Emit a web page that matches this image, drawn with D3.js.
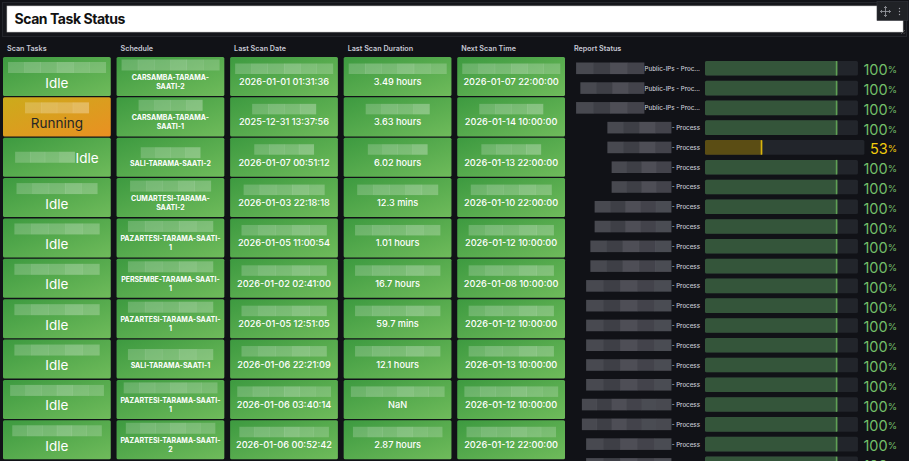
<!DOCTYPE html>
<html>
<head>
<meta charset="utf-8">
<script src="https://cdn.jsdelivr.net/npm/d3@7"></script>
<style>
  html, body { margin: 0; padding: 0; background: #111217; overflow: hidden; }
  svg { display: block; font-family: Inter, "Noto Sans", sans-serif; }
</style>
</head>
<body>
<script>
// ---- data ----
const panelTitle = "Scan Task Status";
const columns = ["Scan Tasks", "Schedule", "Last Scan Date", "Last Scan Duration", "Next Scan Time"];
const reportTitle = "Report Status";

// hidden (blurred) series names: only their length is known
const nameLengths = [23, 15, 14, 19, 20, 20, 20, 20, 22, 21];
const taskStates = ["Idle", "Running", "Idle", "Idle", "Idle", "Idle", "Idle", "Idle", "Idle", "Idle"];
const schedules = [
  "CARSAMBA-TARAMA-SAATI-2", "CARSAMBA-TARAMA-SAATI-1", "SALI-TARAMA-SAATI-2",
  "CUMARTESI-TARAMA-SAATI-2", "PAZARTESI-TARAMA-SAATI-1", "PERSEMBE-TARAMA-SAATI-1",
  "PAZARTESI-TARAMA-SAATI-1", "SALI-TARAMA-SAATI-1", "PAZARTESI-TARAMA-SAATI-1",
  "PAZARTESI-TARAMA-SAATI-2"
];
const lastScanDates = [
  "2026-01-01 01:31:36", "2025-12-31 13:37:56", "2026-01-07 00:51:12", "2026-01-03 22:18:18",
  "2026-01-05 11:00:54", "2026-01-02 02:41:00", "2026-01-05 12:51:05", "2026-01-06 22:21:09",
  "2026-01-06 03:40:14", "2026-01-06 00:52:42"
];
const durationValues = [3.49, 3.63, 6.02, 12.3, 1.01, 16.7, 59.7, 12.1, NaN, 2.87];
const durationUnits = ["hours", "hours", "hours", "mins", "hours", "hours", "mins", "hours", "hours", "hours"];
const nextScanTimes = [
  "2026-01-07 22:00:00", "2026-01-14 10:00:00", "2026-01-13 22:00:00", "2026-01-10 22:00:00",
  "2026-01-12 10:00:00", "2026-01-08 10:00:00", "2026-01-12 10:00:00", "2026-01-13 10:00:00",
  "2026-01-12 10:00:00", "2026-01-12 22:00:00"
];

const reportLabels = [
  "Public-IPs - Proc...", "Public-IPs - Proc...", "Public-IPs - Proc...",
  "- Process", "- Process", "- Process", "- Process", "- Process", "- Process", "- Process",
  "- Process", "- Process", "- Process", "- Process", "- Process", "- Process", "- Process",
  "- Process", "- Process", "- Process", "- Process"
];
const reportNameLengths = [16, 15, 16, 15, 15, 14, 14, 18, 18, 19, 19, 20, 20, 20, 20, 20, 20, 21, 21, 20, 20];
const reportValues = [100, 100, 100, 100, 53, 100, 100, 100, 100, 100, 100, 100, 100, 100, 100, 100, 100, 100, 100, 100, 100];

// ---- setup ----
const width = 909;
const height = 461;
const charW = 4.25;

const svg = d3.select("body").append("svg")
  .attr("width", width)
  .attr("height", height);

const defs = svg.append("defs");
function gradient(id, c0, c1) {
  const g = defs.append("linearGradient").attr("id", id)
    .attr("x1", 0).attr("y1", 0).attr("x2", 1).attr("y2", 1);
  g.append("stop").attr("offset", "0%").attr("stop-color", c0);
  g.append("stop").attr("offset", "100%").attr("stop-color", c1);
}
gradient("gGreen", "#3d9a40", "#6fbb5b");
gradient("gOrange", "#cbab1b", "#ea9022");

svg.append("rect").attr("width", width).attr("height", height).attr("fill", "#111217");

// ---- title panel ----
svg.append("rect")
  .attr("x", 2.5).attr("y", 2.5).attr("width", 904).attr("height", 34)
  .attr("fill", "#15161b").attr("stroke", "#24262c");
svg.append("rect")
  .attr("x", 7).attr("y", 6).attr("width", 896).attr("height", 26)
  .attr("fill", "#ffffff").attr("stroke", "#c8c8c8").attr("stroke-width", 0.6);
svg.append("text")
  .attr("x", 14.5).attr("y", 24)
  .attr("font-size", 14).attr("font-weight", 700).attr("fill", "#111")
  .attr("letter-spacing", -0.45)
  .text(panelTitle);

// hover icons in the corner
const icons = svg.append("g");
icons.append("rect")
  .attr("x", 877).attr("y", 1.5).attr("width", 31).attr("height", 19)
  .attr("fill", "#202226").attr("stroke", "#34363c").attr("stroke-width", 0.6);
const cx = 885.5, cy = 11.5;
icons.append("path")
  .attr("d", `M${cx - 5},${cy}H${cx + 5}M${cx},${cy - 5}V${cy + 5}` +
    `M${cx - 3.5},${cy - 1.5}L${cx - 5},${cy}L${cx - 3.5},${cy + 1.5}` +
    `M${cx + 3.5},${cy - 1.5}L${cx + 5},${cy}L${cx + 3.5},${cy + 1.5}` +
    `M${cx - 1.5},${cy - 3.5}L${cx},${cy - 5}L${cx + 1.5},${cy - 3.5}` +
    `M${cx - 1.5},${cy + 3.5}L${cx},${cy + 5}L${cx + 1.5},${cy + 3.5}`)
  .attr("fill", "none").attr("stroke", "#9fa1a8").attr("stroke-width", 0.8);
[-3, 0, 3].forEach(d => {
  icons.append("circle").attr("cx", 899.5).attr("cy", cy + d).attr("r", 0.7).attr("fill", "#9fa1a8");
});
svg.append("path")
  .attr("d", "M901,34L905,30M903.5,34L905,32.5")
  .attr("stroke", "#777").attr("stroke-width", 0.6);

// ---- scales ----
const xCol = d3.scaleBand().domain(columns).range([3, 565]).paddingInner(0.051);
const yRow = d3.scaleBand().domain(d3.range(taskStates.length)).range([57, 459.3]).paddingInner(0.033);

// headers
svg.append("g").selectAll("text")
  .data(columns.concat([reportTitle]))
  .join("text")
  .attr("x", (d, i) => i < columns.length ? xCol(d) + 4 : 574)
  .attr("y", 48.7)
  .attr("dominant-baseline", "central")
  .attr("font-size", 7.2).attr("font-weight", 600).attr("fill", "#c7c8d4")
  .text(d => d);

// pixelated redaction block
function mask(g, x, y, w, h, shades) {
  const n = Math.max(1, Math.round(w / 16));
  const tw = w / n;
  d3.range(n).forEach(k => {
    g.append("rect")
      .attr("x", x + k * tw).attr("y", y)
      .attr("width", tw + 0.3).attr("height", h)
      .attr("fill", shades.color)
      .attr("fill-opacity", shades.op[k % shades.op.length]);
  });
}
const lightMask = { color: "#ffffff", op: [0.2, 0.26, 0.23, 0.29, 0.24] };
const greyMask = { color: "#5b5c64", op: [0.75, 0.62, 0.82, 0.68, 0.78] };

// cell text per column
function cellText(i, c) {
  if (c === 0) return taskStates[i];
  if (c === 1) return schedules[i];
  if (c === 2) return lastScanDates[i];
  if (c === 3) return isNaN(durationValues[i]) ? "NaN" : `${durationValues[i]} ${durationUnits[i]}`;
  return nextScanTimes[i];
}

// greedy wrap on hyphens
function wrapLines(str, fontSize, maxW, measurer) {
  const parts = str.match(/[^-]+-?/g);
  const lines = [];
  let cur = "";
  parts.forEach(p => {
    const t = cur + p;
    measurer.attr("font-size", fontSize).text(t);
    if (cur && measurer.node().getComputedTextLength() > maxW) {
      lines.push(cur);
      cur = p;
    } else {
      cur = t;
    }
  });
  lines.push(cur);
  return lines;
}
const measurer = svg.append("text").attr("font-weight", 700).attr("opacity", 0);

const table = svg.append("g");
taskStates.forEach((state, i) => {
  columns.forEach((col, c) => {
    const x = xCol(col), y = yRow(i);
    const w = xCol.bandwidth(), h = yRow.bandwidth();
    const mid = x + w / 2;
    const g = table.append("g");
    const running = c === 0 && state === "Running";
    g.append("rect")
      .attr("x", x).attr("y", y).attr("width", w).attr("height", h)
      .attr("rx", 1.5)
      .attr("fill", running ? "url(#gOrange)" : "url(#gGreen)");
    const mw = nameLengths[i] * charW;
    const txtColor = running ? "#262626" : "#ffffff";
    const str = cellText(i, c);

    if (c === 1) {
      const lines = wrapLines(str, 7, 101, measurer);
      const two = lines.length > 1;
      mask(g, mid - mw / 2, y + (two ? 2.5 : 9.5), mw, 11, lightMask);
      g.selectAll("text.l").data(lines).join("text")
        .attr("x", mid)
        .attr("y", (d, k) => y + (two ? 20.5 + k * 8.7 : 25.7))
        .attr("text-anchor", "middle").attr("dominant-baseline", "central")
        .attr("font-size", 7).attr("font-weight", 700).attr("fill", txtColor)
        .text(d => d);
      return;
    }

    const fs = c === 0 ? 13.5 : 9.2;
    const t = g.append("text")
      .attr("font-size", fs).attr("font-weight", c === 0 ? 400 : 500)
      .attr("fill", txtColor).attr("dominant-baseline", "central")
      .text(str);
    const tw = t.node().getComputedTextLength();
    if (mw + tw < 95) {
      // name and value fit on one line
      const left = mid - (mw + tw + 1) / 2;
      mask(g, left, y + h / 2 - 5.5, mw, 11, lightMask);
      t.attr("x", left + mw + 1).attr("y", y + h / 2 + 0.5);
    } else {
      const top = c === 0 ? 5 : 6.5;
      mask(g, mid - mw / 2, y + top, mw, c === 0 ? 11 : 10.5, lightMask);
      t.attr("x", mid).attr("text-anchor", "middle")
        .attr("y", y + (c === 0 ? 25.5 : 24.5));
    }
    t.raise();
  });
});

// ---- report status bar gauges ----
const yRep = d3.scaleBand().domain(d3.range(reportValues.length)).range([61, 471.2]).paddingInner(0.262);
const color = v => v >= 80 ? { text: "#73bf69", fill: "#34553a", edge: "#5f9f55" }
                           : { text: "#f2cc0c", fill: "#5b4d14", edge: "#d9b40e" };
const trackX = 705;
const valueRight = 897;

const bars = svg.append("g");
reportValues.forEach((v, i) => {
  const y = yRep(i), bh = yRep.bandwidth(), cy = y + bh / 2;
  const col = color(v);
  const g = bars.append("g");

  const vt = g.append("text")
    .attr("x", valueRight).attr("y", cy + 1)
    .attr("text-anchor", "end").attr("dominant-baseline", "central")
    .attr("fill", col.text);
  vt.append("tspan").attr("font-size", 14.5).text(v);
  vt.append("tspan").attr("font-size", 9.5).text("%");
  const trackEnd = vt.node().getBBox().x - 5.5;

  const xVal = d3.scaleLinear().domain([19.6, 112.5]).range([0, trackEnd - trackX]);
  g.append("rect")
    .attr("x", trackX).attr("y", y).attr("width", trackEnd - trackX).attr("height", bh)
    .attr("rx", 1.5).attr("fill", "#22252b");
  g.append("rect")
    .attr("x", trackX).attr("y", y).attr("width", xVal(v)).attr("height", bh)
    .attr("rx", 1.5).attr("fill", col.fill);
  g.append("rect")
    .attr("x", trackX + xVal(v) - 1.6).attr("y", y).attr("width", 1.6).attr("height", bh)
    .attr("fill", col.edge);

  const lt = g.append("text")
    .attr("x", 700).attr("y", cy)
    .attr("text-anchor", "end").attr("dominant-baseline", "central")
    .attr("font-size", 6.2).attr("font-weight", 500).attr("fill", "#c7c8d4")
    .text(reportLabels[i]);
  const lx = lt.node().getBBox().x;
  const mw = reportNameLengths[i] * charW;
  mask(g, lx - 0.5 - mw, cy - 5.8, mw, 11.6, greyMask);
});
</script>
</body>
</html>
